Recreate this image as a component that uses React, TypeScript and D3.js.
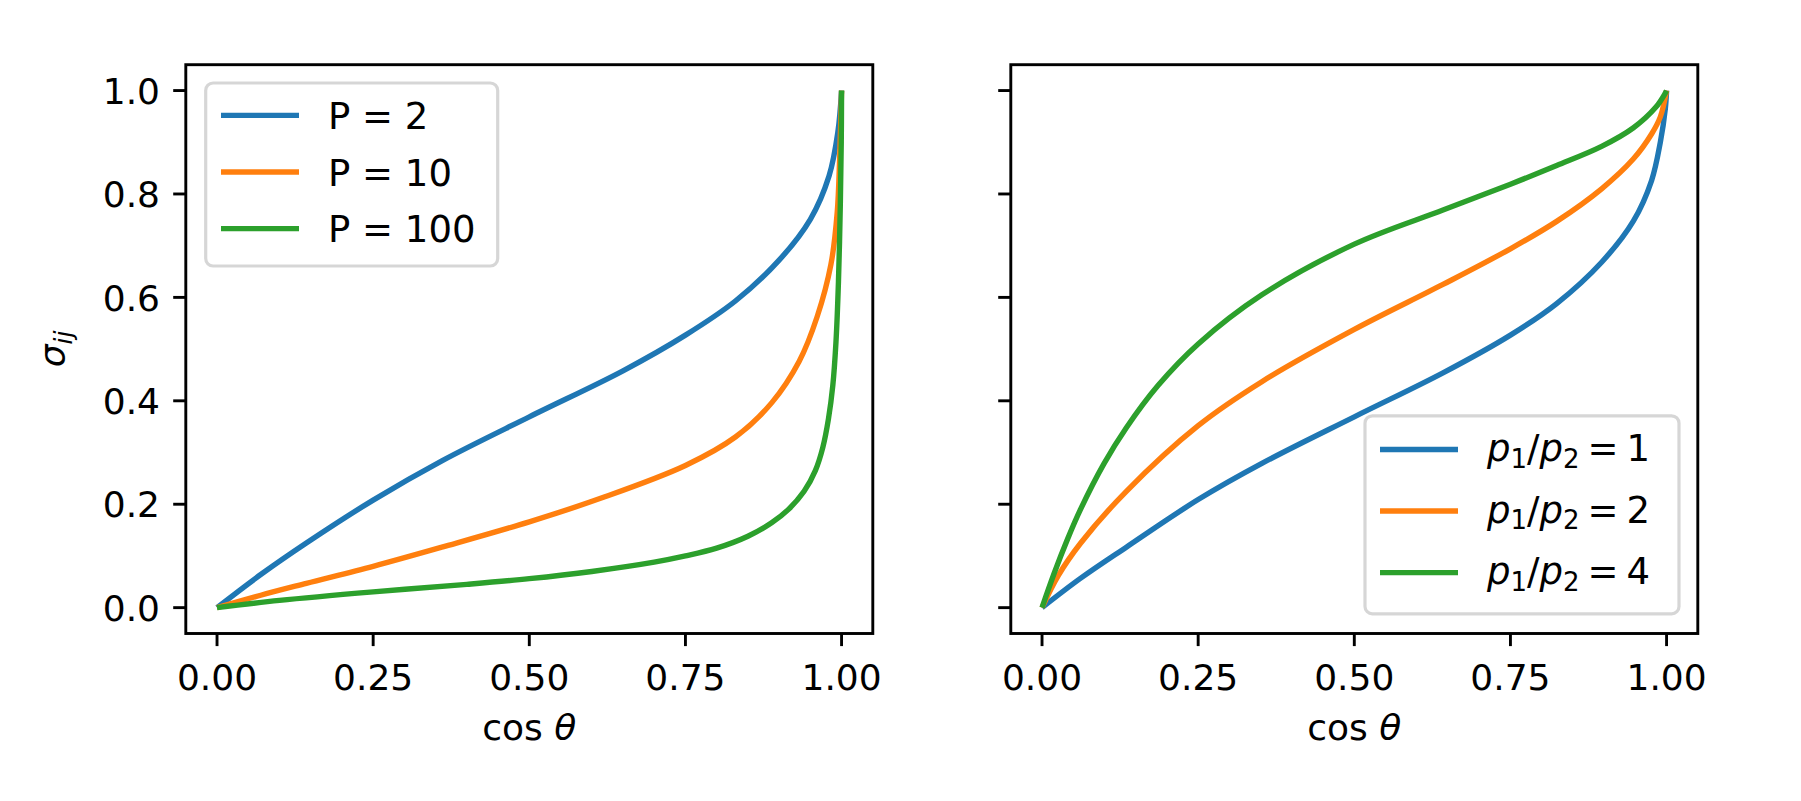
import React from "react";
import * as d3 from "d3";

// values (cos theta, sigma_ij)
const xTicks = [0, 0.25, 0.5, 0.75, 1.0];
const yTicks = [0, 0.2, 0.4, 0.6, 0.8, 1.0];
const xTickLabels = ["0.00", "0.25", "0.50", "0.75", "1.00"];
const yTickLabels = ["0.0", "0.2", "0.4", "0.6", "0.8", "1.0"];

const leftLabels = ["P = 2", "P = 10", "P = 100"];
const rightRatios = ["1", "2", "4"];
const colors = ["#1f77b4", "#ff7f0e", "#2ca02c"];

const leftP2: [number, number][] = [
    [0, 0], [0.07, 0.064], [0.143, 0.125], [0.25, 0.208], [0.36, 0.284],
    [0.5, 0.369], [0.65, 0.458], [0.75, 0.527], [0.83, 0.593], [0.9, 0.672],
    [0.95, 0.751], [0.98, 0.835], [0.994, 0.919], [1, 1],
];
const leftP10: [number, number][] = [
    [0, 0], [0.07, 0.024], [0.143, 0.047], [0.25, 0.08], [0.36, 0.117],
    [0.5, 0.166], [0.613, 0.211], [0.75, 0.275], [0.83, 0.33], [0.888, 0.396],
    [0.932, 0.476], [0.961, 0.563], [0.983, 0.664], [0.993, 0.764],
    [0.997, 0.872], [1, 1],
];
const leftP100: [number, number][] = [
    [0, 0], [0.1, 0.014], [0.25, 0.0305], [0.4, 0.045], [0.5, 0.056],
    [0.6, 0.07], [0.7, 0.088], [0.75, 0.1], [0.8, 0.115], [0.85, 0.138],
    [0.888, 0.164], [0.915, 0.19], [0.94, 0.225], [0.958, 0.265],
    [0.97, 0.31], [0.979, 0.365], [0.986, 0.43], [0.991, 0.513], [0.995, 0.63],
    [0.998, 0.78], [0.9995, 0.9], [1, 1],
];

const rightR1: [number, number][] = [
    [0, 0], [0.062, 0.057], [0.135, 0.117], [0.25, 0.209], [0.352, 0.279],
    [0.5, 0.369], [0.642, 0.454], [0.75, 0.527], [0.824, 0.588], [0.896, 0.668],
    [0.947, 0.748], [0.976, 0.826], [0.99, 0.9], [0.998, 0.965], [1, 1],
];
const rightR2: [number, number][] = [
    [0, 0], [0.026, 0.062], [0.062, 0.125], [0.135, 0.225], [0.25, 0.352],
    [0.352, 0.437], [0.5, 0.538], [0.642, 0.625], [0.75, 0.694], [0.824, 0.747],
    [0.896, 0.81], [0.947, 0.868], [0.976, 0.916], [0.99, 0.949], [1, 1],
];
const rightR4: [number, number][] = [
    [0, 0], [0.019, 0.065], [0.041, 0.133], [0.062, 0.191], [0.099, 0.278],
    [0.135, 0.348], [0.186, 0.43], [0.25, 0.51], [0.352, 0.605], [0.5, 0.703],
    [0.642, 0.769], [0.75, 0.819], [0.824, 0.855], [0.896, 0.892],
    [0.947, 0.928], [0.983, 0.968], [0.997, 0.993], [1, 1],
];

const W = 1801;
const H = 801;
const FONT = "DejaVu Sans";
const FS = 36;
const LFS = 37;
const axTop = 64.7;
const axBottom = 633.5;
const axW = 687;
const panels = [185.8, 1010.8];

function Panel({ x0, series, side }: { x0: number; series: [number, number][][]; side: number }) {
    const x = d3.scaleLinear().domain([-0.05, 1.05]).range([x0, x0 + axW]);
    const y = d3.scaleLinear().domain([-0.05, 1.05]).range([axBottom, axTop]);
    const line = d3
        .line<[number, number]>()
        .x((d) => x(d[0]))
        .y((d) => y(d[1]))
        .curve(d3.curveCatmullRom.alpha(0.5));
    const clipId = `clip${side}`;

    // legend box
    const lg =
        side === 0
            ? { x: 205.7, y: 83, w: 292, h: 183, rows: [115.4, 172, 228.6], hx: 221, tx: 328, base: 13.5 }
            : { x: 1365, y: 415.8, w: 314, h: 198, rows: [449.5, 511, 572.6], hx: 1380, tx: 1487, base: 11.5 };

    return (
        <g>
            <defs>
                <clipPath id={clipId}>
                    <rect x={x0} y={axTop} width={axW} height={axBottom - axTop} />
                </clipPath>
            </defs>
            <g clipPath={`url(#${clipId})`}>
                {series.map((s, i) => (
                    <path key={i} d={line(s) ?? ""} fill="none" stroke={colors[i]} strokeWidth={5.4} strokeLinejoin="round" />
                ))}
            </g>
            {/* spines */}
            <rect x={x0} y={axTop} width={axW} height={axBottom - axTop} fill="none" stroke="#000" strokeWidth={2.9} />
            {/* x ticks */}
            {xTicks.map((t, i) => (
                <g key={i}>
                    <line x1={x(t)} x2={x(t)} y1={axBottom} y2={axBottom + 12.6} stroke="#000" strokeWidth={2.9} />
                    <text x={x(t)} y={690} textAnchor="middle" fontFamily={FONT} fontSize={FS}>
                        {xTickLabels[i]}
                    </text>
                </g>
            ))}
            {/* y ticks */}
            {yTicks.map((t, i) => (
                <g key={i}>
                    <line x1={x0 - 12.6} x2={x0} y1={y(t)} y2={y(t)} stroke="#000" strokeWidth={2.9} />
                    {side === 0 && (
                        <text x={160} y={y(t) + 13.2} textAnchor="end" fontFamily={FONT} fontSize={FS}>
                            {yTickLabels[i]}
                        </text>
                    )}
                </g>
            ))}
            {/* x label */}
            <text x={x0 + axW / 2} y={740} textAnchor="middle" fontFamily={FONT} fontSize={FS}>
                cos <tspan fontStyle="italic">θ</tspan>
            </text>
            {/* legend */}
            <rect
                x={lg.x}
                y={lg.y}
                width={lg.w}
                height={lg.h}
                rx={7.4}
                fill="#fff"
                fillOpacity={0.8}
                stroke="#ccc"
                strokeOpacity={0.8}
                strokeWidth={3.2}
            />
            {lg.rows.map((ry, i) => (
                <g key={i}>
                    <line x1={lg.hx} x2={lg.hx + 78} y1={ry} y2={ry} stroke={colors[i]} strokeWidth={5.4} />
                    {side === 0 ? (
                        <text x={lg.tx} y={ry + lg.base} fontFamily={FONT} fontSize={LFS}>
                            {leftLabels[i]}
                        </text>
                    ) : (
                        <text x={lg.tx} y={ry + lg.base} fontFamily={FONT} fontSize={LFS}>
                            <tspan fontStyle="italic">p</tspan>
                            <tspan fontSize={26} dy={6.5}>1</tspan>
                            <tspan dy={-6.5}>/</tspan>
                            <tspan fontStyle="italic">p</tspan>
                            <tspan fontSize={26} dy={6.5}>2</tspan>
                            <tspan dy={-6.5} dx={8}>=</tspan>
                            <tspan dx={8}>{rightRatios[i]}</tspan>
                        </text>
                    )}
                </g>
            ))}
        </g>
    );
}

export default function App() {
    return (
        <svg
            width={W}
            height={H}
            viewBox={`0 0 ${W} ${H}`}
            style={{ position: "absolute", left: 0, top: 0, background: "#fff" }}
        >
            <rect width={W} height={H} fill="#fff" />
            <Panel x0={panels[0]} series={[leftP2, leftP10, leftP100]} side={0} />
            <Panel x0={panels[1]} series={[rightR1, rightR2, rightR4]} side={1} />
            <text transform="translate(65,349) rotate(-90)" textAnchor="middle" fontFamily={FONT} fontSize={FS}>
                <tspan fontStyle="italic">σ</tspan>
                <tspan fontStyle="italic" fontSize={25} dy={7}>ij</tspan>
            </text>
        </svg>
    );
}
